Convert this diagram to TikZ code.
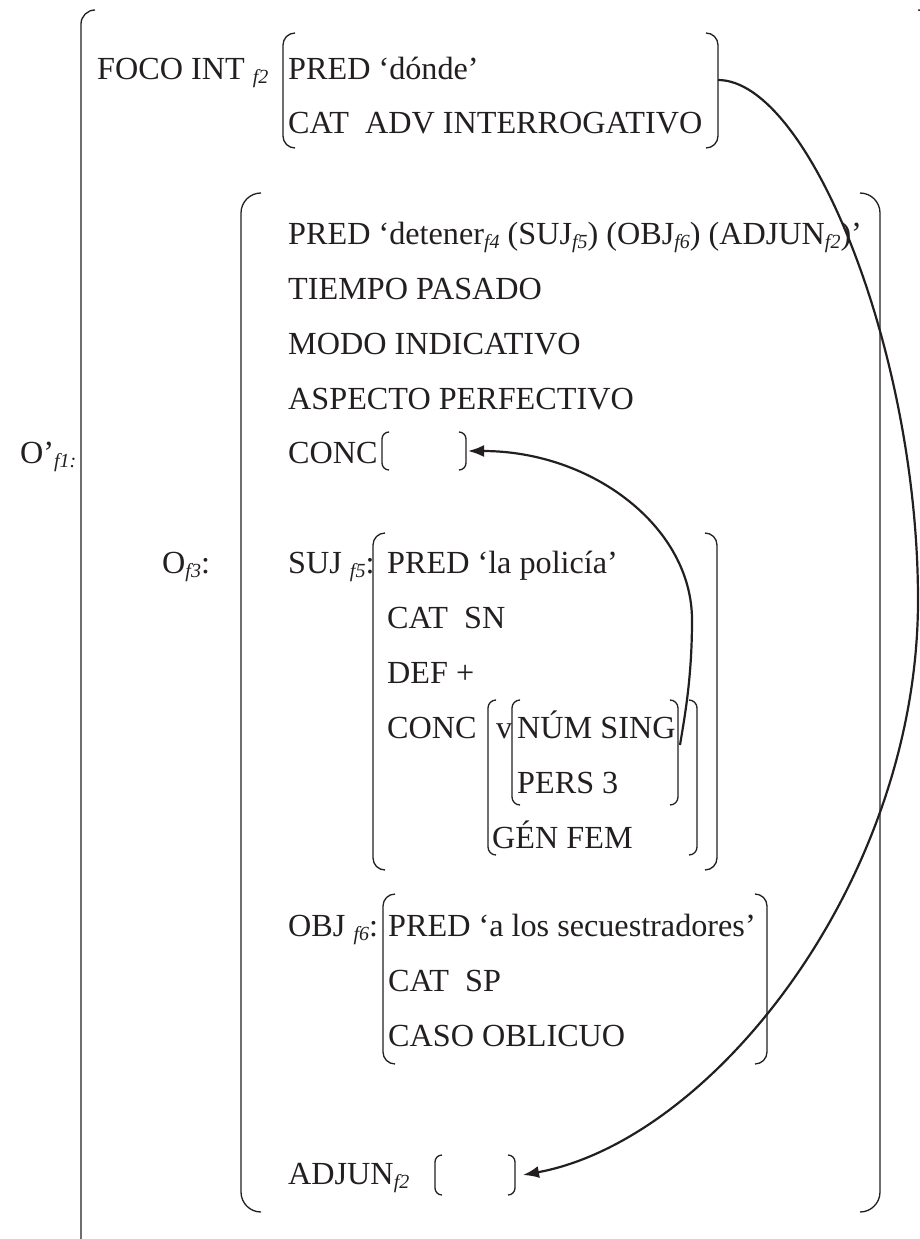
\documentclass[tikz,border=0pt]{standalone}
\usepackage{fontspec}
\setmainfont{Liberation Serif}
\usetikzlibrary{arrows.meta}
\definecolor{ink}{RGB}{35,31,32}
\newcommand{\sbs}[1]{\raisebox{-4pt}{\fontsize{20}{20}\selectfont\itshape #1}}
\newcommand{\LBrk}[4]{\draw[brk,rounded corners=#4pt] (#1+#4,#2) -- (#1,#2) -- (#1,#3) -- (#1+#4,#3);}
\newcommand{\RBrk}[4]{\draw[brk,rounded corners=#4pt] (#1-#4,#2) -- (#1,#2) -- (#1,#3) -- (#1-#4,#3);}
\begin{document}
\begin{tikzpicture}[x=1pt,y=-1pt,
  txt/.style={anchor=base west,inner sep=0pt,text=ink,font=\fontsize{32.2}{36}\selectfont},
  brk/.style={draw=ink,line width=1.3pt},
  arr/.style={draw=ink,line width=2.2pt,-{Latex[length=16pt,width=12pt]}}]
\useasboundingbox (0,0) rectangle (920,1239);
\clip (0,0) rectangle (920,1239);
% outer brackets O'f1
\LBrk{81}{10}{1290}{14}
\RBrk{932}{10}{1290}{14}
\node[txt] (o1) at (20,463) {O’\sbs{f1:}};
% FOCO
\node[txt] (foco) at (97,79) {FOCO INT \sbs{f2}};
\LBrk{283}{33}{148}{12}
\RBrk{718}{33}{148}{12}
\node[txt] (pred1) at (288,79) {PRED ‘dónde’};
\node[txt] (cat1) at (288,133) {CAT\ \ ADV INTERROGATIVO};
% O f3
\node[txt] (of3) at (162,573) {O\sbs{f3}:};
\LBrk{241}{193}{1212}{20}
\RBrk{880}{193}{1212}{20}
\node[txt] (predd) at (288,244) {PRED ‘detener\sbs{f4} (SUJ\sbs{f5}) (OBJ\sbs{f6}) (ADJUN\sbs{f2})’};
\node[txt] (tiempo) at (288,299) {TIEMPO PASADO};
\node[txt] (modo) at (288,354) {MODO INDICATIVO};
\node[txt] (asp) at (288,409) {ASPECTO PERFECTIVO};
\node[txt] (conc) at (288,463) {CONC};
\LBrk{382}{432}{470}{7}
\RBrk{466}{432}{470}{7}
% SUJ
\node[txt] (suj) at (288,573) {SUJ \sbs{f5}:};
\LBrk{373}{533}{870}{12}
\RBrk{717}{533}{870}{12}
\node[txt] (pred2) at (387,573) {PRED ‘la policía’};
\node[txt] (cat2) at (387,628) {CAT\ \ SN};
\node[txt] (def) at (387,683) {DEF +};
\node[txt] (conc2) at (387,738) {CONC};
\LBrk{488}{700}{855}{8}
\RBrk{697}{700}{855}{8}
\node[txt] (v) at (496,738) {v};
\LBrk{512}{700}{805}{8}
\RBrk{678}{700}{805}{8}
\node[txt] (num) at (517,738) {NÚM SING};
\node[txt] (pers) at (517,793) {PERS 3};
\node[txt] (gen) at (492,848) {GÉN FEM};
% OBJ
\node[txt] (obj) at (288,936) {OBJ \sbs{f6}:};
\LBrk{383}{894}{1064}{12}
\RBrk{767}{894}{1064}{12}
\node[txt] (pred3) at (388,936) {PRED ‘a los secuestradores’};
\node[txt] (cat3) at (388,991) {CAT\ \ SP};
\node[txt] (caso) at (388,1046) {CASO OBLICUO};
% ADJUN
\node[txt] (adjun) at (288,1184) {ADJUN\sbs{f2}};
\LBrk{435}{1155}{1195}{7}
\RBrk{515}{1155}{1195}{7}
% connectors
\coordinate (focoR) at (718,80);
\coordinate (bigmid) at (918,600);
\coordinate (adjunR) at (523,1175);
\coordinate (numR) at (680,745);
\coordinate (smid) at (692,620);
\coordinate (concR) at (468,451);
\draw[arr] (focoR) .. controls +(90,0) and +(0,-250) .. (bigmid) .. controls +(0,280) and +(190,-35) .. (adjunR);
\draw[arr] (numR) .. controls +(4,-25) and +(0,60) .. (smid) .. controls +(0,-93) and +(124,0) .. (concR);
\end{tikzpicture}
\end{document}
